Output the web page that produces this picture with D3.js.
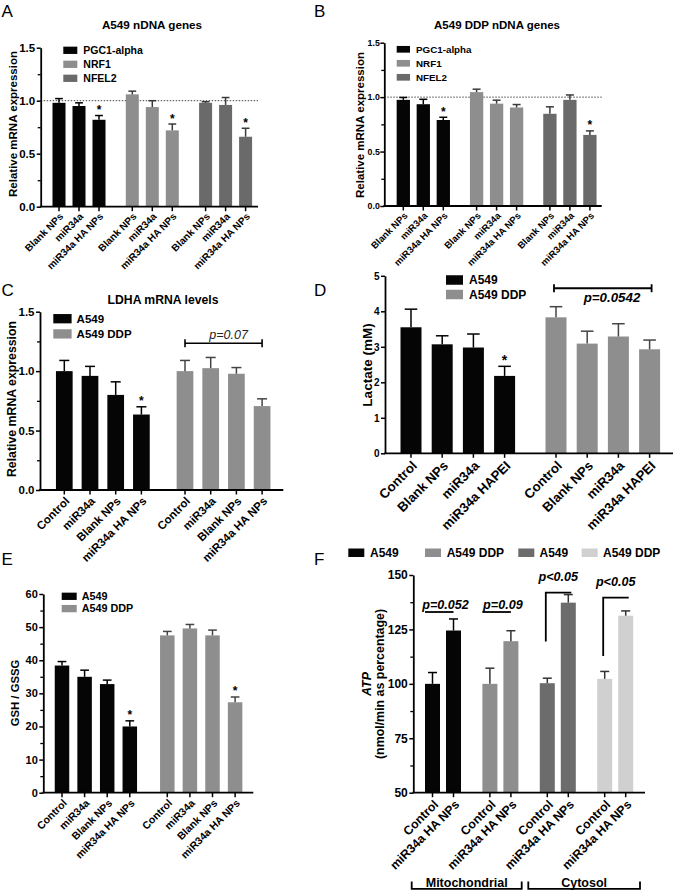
<!DOCTYPE html>
<html><head><meta charset="utf-8">
<script src="https://cdn.jsdelivr.net/npm/d3@7"></script>
<style>html,body{margin:0;padding:0;background:#fff;}svg{display:block;}</style>
</head><body>
<script>
// ---------------- DATA ----------------
// Panel A
const aTitle = "A549 nDNA genes";
const aCategories = ["Blank NPs", "miR34a", "miR34a HA NPs"];
const aSeries = ["PGC1-alpha", "NRF1", "NFEL2"];
const aMeans = [[0.98, 0.95, 0.82], [1.06, 0.94, 0.72], [0.98, 0.96, 0.66]];
const aErrors = [[0.04, 0.03, 0.04], [0.03, 0.06, 0.06], [0.01, 0.07, 0.08]];
const aStars = [[0, 0, 1], [0, 0, 1], [0, 0, 1]];
// Panel B
const bTitle = "A549 DDP nDNA genes";
const bCategories = ["Blank NPs", "miR34a", "miR34a HA NPs"];
const bSeries = ["PGC1-alpha", "NRF1", "NFEL2"];
const bMeans = [[0.975, 0.935, 0.79], [1.046, 0.94, 0.905], [0.847, 0.975, 0.653]];
const bErrors = [[0.022, 0.045, 0.025], [0.027, 0.032, 0.027], [0.064, 0.045, 0.037]];
const bStars = [[0, 0, 1], [0, 0, 0], [0, 0, 1]];
// Panel C
const cTitle = "LDHA mRNA levels";
const cCategories = ["Control", "miR34a", "Blank NPs", "miR34a HA NPs"];
const cSeries = ["A549", "A549 DDP"];
const cMeans = [[1.0, 0.96, 0.80, 0.635], [1.0, 1.025, 0.978, 0.706]];
const cErrors = [[0.09, 0.08, 0.11, 0.065], [0.09, 0.09, 0.052, 0.061]];
const cStars = [[0, 0, 0, 1], [0, 0, 0, 0]];
const cPLabel = "p=0.07";
// Panel D
const dCategories = ["Control", "Blank NPs", "miR34a", "miR34a HAPEI"];
const dSeries = ["A549", "A549 DDP"];
const dMeans = [[3.55, 3.07, 2.98, 2.18], [3.83, 3.09, 3.29, 2.93]];
const dErrors = [[0.51, 0.24, 0.38, 0.27], [0.30, 0.35, 0.36, 0.26]];
const dStars = [[0, 0, 0, 1], [0, 0, 0, 0]];
const dPLabel = "p=0.0542";
// Panel E
const eCategories = ["Control", "miR34a", "Blank NPs", "miR34a HA NPs"];
const eSeries = ["A549", "A549 DDP"];
const eMeans = [[38.4, 35.0, 32.8, 20.0], [47.5, 49.6, 47.5, 27.3]];
const eErrors = [[1.2, 2.0, 1.2, 1.7], [1.2, 1.2, 1.6, 1.6]];
const eStars = [[0, 0, 0, 1], [0, 0, 0, 1]];
// Panel F
const fCategories = ["Control", "miR34a HA NPs"];
const fSeries = ["A549", "A549 DDP", "A549", "A549 DDP"];
const fMeans = [[100, 124.5], [100, 119.6], [100.3, 137.3], [102.3, 131.3]];
const fErrors = [[5.2, 5.3], [7.2, 4.8], [2.3, 3.7], [3.4, 2.2]];
const fPLabels = ["p=0.052", "p=0.09", "p<0.05", "p<0.05"];
const fPLevels = [133, 133, 141.9, 139.6];       // bracket level (data units)
const fPStart = [null, null, 119.4, 112.8];      // vertical start for "Γ" brackets
const fCompartments = ["Mitochondrial", "Cytosol"];

// ---------------- STYLE ----------------
const FONT = "'Liberation Sans', Arial, Helvetica, sans-serif";
const BLACK = "#050505", GREY = "#8e8e8e", DGREY = "#6a6a6a", LGREY = "#d0d0d0";

const svg = d3.select("body").append("svg").attr("width", 675).attr("height", 891)
  .style("font-family", FONT);

function txt(g, x, y, s, size, opts = {}) {
  return g.append("text").attr("x", x).attr("y", y).text(s)
    .attr("font-size", size).attr("font-weight", opts.weight || "bold")
    .attr("font-style", opts.style || "normal")
    .attr("text-anchor", opts.anchor || "start")
    .attr("fill", opts.fill || "#000");
}

function panel(p) {
  const g = svg.append("g");
  const y = d3.scaleLinear().domain(p.yDomain).range(p.yRange);
  const slot = d3.scaleLinear().domain([0, 1]).range([p.x0, p.x0 + p.step]);
  const grp = d3.scaleLinear().domain([0, 1]).range([0, p.groupStep]);
  const cx = (gi, i) => slot(i) + grp(gi);
  const y0 = y(p.yDomain[0]);

  // reference line
  if (p.refLine != null) {
    g.append("line").attr("x1", p.axisX[0]).attr("x2", p.axisX[1])
      .attr("y1", y(p.refLine)).attr("y2", y(p.refLine))
      .attr("stroke", "#444").attr("stroke-width", 1).attr("stroke-dasharray", "1.5,1.5");
  }

  // bars
  p.means.forEach((arr, gi) => arr.forEach((v, i) => {
    const x = cx(gi, i);
    g.append("rect").attr("x", x - p.barW / 2).attr("y", y(v))
      .attr("width", p.barW).attr("height", y0 - y(v)).attr("fill", p.colors[gi]);
    const top = y(v + p.errs[gi][i]);
    const ec = gi === 0 && p.colors[gi] === BLACK ? "#000" : (p.errColor || "#333");
    g.append("line").attr("x1", x).attr("x2", x).attr("y1", y(v)).attr("y2", top)
      .attr("stroke", ec).attr("stroke-width", 1.5);
    g.append("line").attr("x1", x - p.barW * 0.3).attr("x2", x + p.barW * 0.3)
      .attr("y1", top).attr("y2", top).attr("stroke", ec).attr("stroke-width", 1.5);
    if (p.stars && p.stars[gi][i]) {
      txt(g, x, top - 1.5, "*", p.starSize || 12, { anchor: "middle" });
    }
  }));

  // y axis
  const ax = d3.axisLeft(y).tickValues(p.yTicks).tickFormat(p.fmt)
    .tickSize(4).tickSizeOuter(0).tickPadding(p.tickPad != null ? p.tickPad : 1.5);
  const ag = g.append("g").attr("transform", `translate(${p.axisX[0]},0)`).call(ax);
  ag.select(".domain").attr("stroke-width", 1.8).attr("stroke", "#000");
  ag.selectAll(".tick line").attr("stroke-width", 1.5);
  ag.selectAll(".tick text").attr("font-size", p.yTickSize).attr("font-weight", "bold")
    .attr("font-family", FONT).attr("fill", "#000");
  if (p.yMinor) {
    const am = d3.axisLeft(y).tickValues(p.yMinor).tickFormat("").tickSize(3).tickSizeOuter(0);
    const mg = g.append("g").attr("transform", `translate(${p.axisX[0]},0)`).call(am);
    mg.select(".domain").remove();
    mg.selectAll(".tick line").attr("stroke-width", 1.3);
  }
  // x axis line
  g.append("line").attr("x1", p.axisX[0] - 0.9).attr("x2", p.axisX[1])
    .attr("y1", y0).attr("y2", y0).attr("stroke", "#000").attr("stroke-width", 1.8);

  // x ticks + labels
  p.means.forEach((arr, gi) => arr.forEach((v, i) => {
    const x = cx(gi, i);
    g.append("line").attr("x1", x).attr("x2", x).attr("y1", y0).attr("y2", y0 + 4.5)
      .attr("stroke", "#000").attr("stroke-width", 1.5);
    g.append("text").attr("transform", `translate(${x + p.lblDx},${y0 + p.lblDy}) rotate(-45)`)
      .attr("text-anchor", "end").attr("dy", "0.35em")
      .attr("font-size", p.xLblSize).attr("font-weight", "bold").text(p.categories[i]);
  }));

  // y label
  if (p.yLabel) {
    p.yLabel.forEach((l, k) => {
      g.append("text").attr("transform", `translate(${p.yLabelX[k]},${p.yLabelY}) rotate(-90)`)
        .attr("text-anchor", "middle").attr("font-size", p.yLabelSize)
        .attr("font-weight", "bold").attr("font-style", p.yLabelStyle ? p.yLabelStyle[k] : "normal")
        .text(l);
    });
  }
  if (p.title) txt(g, p.titleX, p.titleY, p.title, p.titleSize, { anchor: "middle" });

  // legend
  if (p.legend) {
    p.series.forEach((s, k) => {
      const ly = p.legend.y + k * p.legend.dy;
      g.append("rect").attr("x", p.legend.x).attr("y", ly - p.legend.h / 2)
        .attr("width", p.legend.w).attr("height", p.legend.h).attr("fill", p.colors[k]);
      txt(g, p.legend.x + p.legend.w + p.legend.gap, ly + p.legend.size * 0.36, s, p.legend.size);
    });
  }
  return { g, y, cx, y0 };
}

function letter(s, x, y) { txt(svg, x, y, s, 17, { weight: "normal" }); }

// ---------------- PANEL A ----------------
letter("A", 1.5, 17);
panel({
  means: aMeans, errs: aErrors, stars: aStars, categories: aCategories, series: aSeries,
  colors: [BLACK, GREY, DGREY], errColor: "#3a3a3a",
  yDomain: [0, 1.5], yRange: [206.7, 47.7], yTicks: [0, 0.5, 1.0, 1.5], yMinor: [0.25, 0.75, 1.25],
  fmt: d3.format(".1f"), yTickSize: 11.5,
  axisX: [40.7, 258], x0: 59, step: 20, groupStep: 73.3, barW: 13,
  refLine: 1.0, xLblSize: 10, lblDx: 2.5, lblDy: 8,
  yLabel: ["Relative mRNA expression"], yLabelX: [17], yLabelY: 124, yLabelSize: 11.5,
  title: aTitle, titleX: 152, titleY: 29, titleSize: 11.7,
  legend: { x: 63.3, y: 50.3, dy: 14, w: 14, h: 7.3, gap: 6, size: 10.5 }
});

// ---------------- PANEL B ----------------
letter("B", 314, 17);
panel({
  means: bMeans, errs: bErrors, stars: bStars, categories: bCategories, series: bSeries,
  colors: [BLACK, GREY, DGREY], errColor: "#3a3a3a",
  yDomain: [0, 1.5], yRange: [206, 42.7], yTicks: [0, 0.5, 1.0, 1.5], yMinor: [0.25, 0.75, 1.25],
  fmt: d3.format(".1f"), yTickSize: 8.8, tickPad: 0.5,
  axisX: [384.3, 601.7], x0: 403.3, step: 20, groupStep: 73.3, barW: 13.3,
  refLine: 1.0, xLblSize: 9.5, lblDx: 2.5, lblDy: 8,
  yLabel: ["Relative mRNA expression"], yLabelX: [364], yLabelY: 125, yLabelSize: 11.5,
  title: bTitle, titleX: 497, titleY: 29, titleSize: 11.5,
  legend: { x: 396.7, y: 49.3, dy: 14, w: 13.3, h: 6.7, gap: 6, size: 9.8 }
});

// ---------------- PANEL C ----------------
letter("C", 1.5, 296);
const pc = panel({
  means: cMeans, errs: cErrors, stars: cStars, categories: cCategories, series: cSeries,
  colors: [BLACK, GREY], errColor: "#444",
  yDomain: [0, 1.5], yRange: [490, 311.7], yTicks: [0, 0.5, 1.0, 1.5], yMinor: [0.25, 0.75, 1.25],
  fmt: d3.format(".1f"), yTickSize: 11.5,
  axisX: [40, 283.3], x0: 64.3, step: 25.7, groupStep: 120.7, barW: 16.7,
  xLblSize: 11.5, lblDx: 3, lblDy: 9,
  yLabel: ["Relative mRNA expression"], yLabelX: [16], yLabelY: 399, yLabelSize: 12.3,
  title: cTitle, titleX: 163, titleY: 303.5, titleSize: 12.2,
  legend: { x: 53.3, y: 318.7, dy: 15.2, w: 18.3, h: 9.3, gap: 5, size: 11.5 }
});
{
  const lv = pc.y(1.234), x1 = pc.cx(1, 0), x2 = pc.cx(1, 3);
  pc.g.append("line").attr("x1", x1).attr("x2", x2).attr("y1", lv).attr("y2", lv).attr("stroke", "#000").attr("stroke-width", 1.6);
  [x1, x2].forEach(x => pc.g.append("line").attr("x1", x).attr("x2", x).attr("y1", lv - 4).attr("y2", lv + 4).attr("stroke", "#000").attr("stroke-width", 1.6));
  txt(pc.g, (x1 + x2) / 2 + 5, lv - 4.5, cPLabel, 12.5, { weight: "normal", style: "italic", anchor: "middle", fill: "#222" });
}

// ---------------- PANEL D ----------------
letter("D", 314, 296);
const pd = panel({
  means: dMeans, errs: dErrors, stars: dStars, categories: dCategories, series: dSeries,
  colors: [BLACK, GREY], errColor: "#444", starSize: 14,
  yDomain: [0, 5], yRange: [453.3, 275.8], yTicks: [0, 1, 2, 3, 4, 5],
  fmt: d3.format("d"), yTickSize: 10,
  axisX: [385, 673], x0: 411, step: 31.2, groupStep: 145, barW: 21,
  xLblSize: 13.2, lblDx: 3.5, lblDy: 10,
  yLabel: ["Lactate (mM)"], yLabelX: [372], yLabelY: 365, yLabelSize: 13.5,
  legend: { x: 446, y: 280, dy: 14.5, w: 17, h: 9.5, gap: 6, size: 12 }
});
{
  const lv = pd.y(4.65), x1 = pd.cx(1, 0) - 2, x2 = pd.cx(1, 3) + 2;
  pd.g.append("line").attr("x1", x1).attr("x2", x2).attr("y1", lv).attr("y2", lv).attr("stroke", "#000").attr("stroke-width", 1.8);
  [x1, x2].forEach(x => pd.g.append("line").attr("x1", x).attr("x2", x).attr("y1", lv - 4).attr("y2", lv + 4).attr("stroke", "#000").attr("stroke-width", 1.8));
  txt(pd.g, 612, lv + 13.5, dPLabel, 13.3, { style: "italic", anchor: "middle" });
}

// ---------------- PANEL E ----------------
letter("E", 1.5, 565);
panel({
  means: eMeans, errs: eErrors, stars: eStars, categories: eCategories, series: eSeries,
  colors: [BLACK, GREY], errColor: "#444",
  yDomain: [0, 60], yRange: [792.7, 594], yTicks: [0, 10, 20, 30, 40, 50, 60],
  yMinor: [5, 15, 25, 35, 45, 55],
  fmt: d3.format("d"), yTickSize: 11,
  axisX: [43.3, 253.3], x0: 62, step: 22.6, groupStep: 105.3, barW: 14.5,
  xLblSize: 10.5, lblDx: 3, lblDy: 8.5,
  yLabel: ["GSH / GSSG"], yLabelX: [19], yLabelY: 693, yLabelSize: 11.3,
  legend: { x: 61.7, y: 596.3, dy: 12.3, w: 15, h: 7.3, gap: 5, size: 10.8 }
});

// ---------------- PANEL F ----------------
letter("F", 314, 565);
const pf = panel({
  means: fMeans, errs: fErrors, categories: fCategories, series: fSeries,
  colors: [BLACK, GREY, "#6c6c6c", LGREY], errColor: "#333",
  yDomain: [50, 150], yRange: [792.7, 575], yTicks: [50, 75, 100, 125, 150],
  yMinor: [62.5, 87.5, 112.5, 137.5],
  fmt: d3.format("d"), yTickSize: 12,
  axisX: [413.3, 645], x0: 432.5, step: 21, groupStep: 57.4, barW: 15,
  xLblSize: 12.3, lblDx: 3.5, lblDy: 9.5,
  yLabel: ["ATP", "(nmol/min as percentage)"], yLabelX: [370.5, 384], yLabelY: 684, yLabelSize: 12.4,
  yLabelStyle: ["italic", "normal"]
});
// F legend (horizontal)
{
  const lx = [348.3, 425, 518.3, 581.7], tx = [370, 446.7, 539.5, 603];
  fSeries.forEach((s, k) => {
    svg.append("rect").attr("x", lx[k]).attr("y", 548.5).attr("width", 16).attr("height", 8.5)
      .attr("fill", [BLACK, GREY, "#6c6c6c", LGREY][k]);
    txt(svg, tx[k], 557, s, 12);
  });
}
// F significance annotations
fPLabels.forEach((lab, k) => {
  const xa = pf.cx(k, 0), xb = pf.cx(k, 1), lv = pf.y(fPLevels[k]);
  if (fPStart[k] == null) {
    pf.g.append("line").attr("x1", xa - 7.5).attr("x2", xb).attr("y1", lv).attr("y2", lv)
      .attr("stroke", "#000").attr("stroke-width", 1.8);
    txt(pf.g, (xa + xb) / 2 + 2.5, lv - 3, lab, 12.6, { style: "italic", anchor: "middle" });
  } else {
    const ys = pf.y(fPStart[k]);
    pf.g.append("path").attr("d", `M${xa - 1.5},${ys}V${lv}H${xb + 3}`)
      .attr("fill", "none").attr("stroke", "#000").attr("stroke-width", 1.8);
    txt(pf.g, (xa + xb) / 2 + 0.5, lv - 12, lab, 12.6, { style: "italic", anchor: "middle" });
  }
});
// F compartment brackets
{
  const spans = [[411.7, 521.7], [528.3, 640]];
  fCompartments.forEach((c, k) => {
    const [a, b] = spans[k];
    svg.append("path").attr("d", `M${a},881.5V888.8H${b}V881.5`).attr("fill", "none")
      .attr("stroke", "#000").attr("stroke-width", 1.8);
    txt(svg, (a + b) / 2, 886.5, c, 12.5, { anchor: "middle" });
  });
}
</script>
</body></html>
